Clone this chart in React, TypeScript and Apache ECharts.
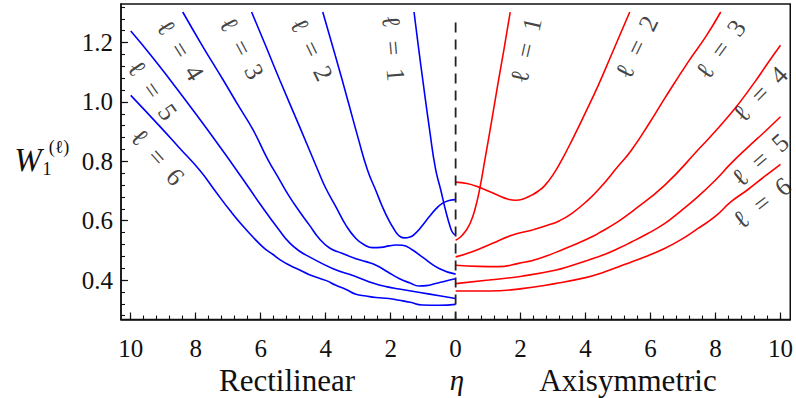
import React, { useEffect, useRef } from "react";
import * as echarts from "echarts";

// W_1^(l) against eta; rectilinear branch drawn to the left of eta = 0 (mirrored), axisymmetric to the right
const rect1: [number, number][] = [[0, 0.551], [0.08, 0.558], [0.16, 0.577], [0.31, 0.635], [0.45, 0.7], [0.62, 0.775], [0.8, 0.905], [1.0, 1.065], [1.15, 1.19], [1.28, 1.303]];
const rect2: [number, number][] = [[0, 0.671], [0.2, 0.668], [0.41, 0.658], [0.62, 0.638], [0.82, 0.612], [1.03, 0.583], [1.23, 0.558], [1.4, 0.545], [1.59, 0.542], [1.75, 0.55], [1.9, 0.572], [2.05, 0.6], [2.25, 0.646], [2.45, 0.7], [2.71, 0.77], [3.0, 0.878], [3.32, 1.006], [3.7, 1.155], [4.09, 1.303]];
const rect3: [number, number][] = [[0, 0.42], [0.51, 0.439], [1.03, 0.478], [1.35, 0.503], [1.64, 0.517], [1.85, 0.518], [2.05, 0.515], [2.3, 0.51], [2.56, 0.509], [2.8, 0.518], [3.07, 0.54], [3.38, 0.585], [3.68, 0.646], [4.0, 0.71], [4.24, 0.77], [4.8, 0.916], [5.41, 1.073], [5.85, 1.19], [6.28, 1.303]];
const rect4: [number, number][] = [[0, 0.404], [0.3, 0.397], [0.62, 0.388], [0.9, 0.381], [1.13, 0.38], [1.4, 0.39], [1.74, 0.405], [2.1, 0.428], [2.45, 0.45], [2.76, 0.462], [3.07, 0.472], [3.5, 0.49], [3.88, 0.508], [4.2, 0.54], [4.5, 0.585], [4.8, 0.63], [5.11, 0.68], [5.41, 0.736], [5.8, 0.81], [6.23, 0.905], [6.7, 0.99], [7.15, 1.073], [7.8, 1.19], [8.4, 1.303]];
const rect5: [number, number][] = [[0, 0.338], [0.5, 0.347], [1.1, 0.358], [1.74, 0.37], [2.1, 0.377], [2.5, 0.388], [3.1, 0.413], [3.79, 0.439], [4.5, 0.478], [4.8, 0.497], [5.11, 0.525], [5.41, 0.565], [6.03, 0.658], [6.6, 0.748], [7.25, 0.848], [8.0, 0.96], [8.78, 1.073], [9.4, 1.16], [10, 1.239]];
const rect6: [number, number][] = [[0, 0.318], [0.51, 0.315], [1.03, 0.316], [1.4, 0.325], [1.74, 0.332], [2.05, 0.338], [2.45, 0.341], [2.76, 0.346], [3.07, 0.352], [3.37, 0.368], [3.7, 0.383], [3.98, 0.398], [4.5, 0.418], [4.8, 0.434], [5.11, 0.45], [5.4, 0.468], [5.62, 0.486], [5.93, 0.511], [6.45, 0.57], [6.95, 0.635], [7.4, 0.7], [7.87, 0.769], [8.5, 0.845], [9.09, 0.916], [10, 1.022]];

const axi1: [number, number][] = [[0, 0.534], [0.15, 0.545], [0.3, 0.564], [0.45, 0.592], [0.6, 0.64], [0.75, 0.712], [0.9, 0.805], [1.1, 0.93], [1.3, 1.06], [1.5, 1.185], [1.68, 1.303]];
const axi2: [number, number][] = [[0, 0.73], [0.35, 0.725], [0.71, 0.713], [1.0, 0.7], [1.32, 0.685], [1.6, 0.673], [1.85, 0.669], [2.1, 0.674], [2.34, 0.686], [2.55, 0.7], [2.75, 0.719], [3.0, 0.755], [3.26, 0.803], [3.6, 0.875], [4.0, 0.965], [4.39, 1.056], [4.8, 1.16], [5.36, 1.303]];
const axi3: [number, number][] = [[0, 0.478], [0.51, 0.495], [1.12, 0.523], [1.73, 0.551], [2.34, 0.568], [2.85, 0.585], [3.2, 0.6], [3.57, 0.624], [4.0, 0.662], [4.4, 0.705], [5.0, 0.783], [5.41, 0.837], [6.0, 0.935], [6.43, 1.011], [7.19, 1.14], [7.7, 1.22], [8.16, 1.303]];
const axi4: [number, number][] = [[0, 0.45], [0.71, 0.446], [1.32, 0.445], [1.94, 0.456], [2.55, 0.472], [3.37, 0.506], [4.18, 0.545], [4.39, 0.557], [5.0, 0.597], [5.41, 0.629], [6.43, 0.719], [7.45, 0.837], [8.47, 0.961], [9.2, 1.066], [9.59, 1.128], [10, 1.191]];
const axi5: [number, number][] = [[0, 0.388], [1.02, 0.4], [2.04, 0.413], [3.06, 0.433], [3.6, 0.45], [4.08, 0.467], [4.6, 0.487], [5.0, 0.506], [5.41, 0.528], [5.9, 0.556], [6.43, 0.59], [6.9, 0.63], [7.45, 0.68], [8.0, 0.737], [8.47, 0.792], [9.0, 0.848], [9.5, 0.898], [10, 0.95]];
const axi6: [number, number][] = [[0, 0.363], [1.02, 0.363], [2.04, 0.371], [3.06, 0.388], [4.0, 0.408], [4.5, 0.424], [5.0, 0.444], [5.41, 0.461], [5.9, 0.481], [6.43, 0.506], [6.95, 0.537], [7.45, 0.573], [8.0, 0.615], [8.47, 0.663], [9.0, 0.705], [9.5, 0.748], [10, 0.79]];

const rectCurves = [rect1, rect2, rect3, rect4, rect5, rect6];
const axiCurves = [axi1, axi2, axi3, axi4, axi5, axi6];

// curve tags: [eta (signed), W, rotation in degrees]
const rectTags: [number, number, number][] = [[-1.92, 1.181, -85], [-4.44, 1.177, -64], [-6.59, 1.181, -62], [-8.48, 1.174, -58], [-9.34, 1.039, -55], [-9.18, 0.814, -48]];
const axiTags: [number, number, number][] = [[2.17, 1.174, 77], [5.58, 1.184, 64], [8.16, 1.177, 54], [9.38, 1.026, 46], [9.38, 0.804, 41], [9.44, 0.659, 38]];

const xMajorTicks = [-10, -8, -6, -4, -2, 0, 2, 4, 6, 8, 10];
const yMajorTicks = [0.4, 0.6, 0.8, 1.0, 1.2];
const xMinorTicks: number[] = [];
for (let i = -25; i <= 25; i++) xMinorTicks.push(i * 0.4);
const yMinorTicks: number[] = [];
for (let i = 7; i <= 33; i++) yMinorTicks.push(i * 0.04);

const X_MIN = -10.3;
const X_MAX = 10.3;
const Y_MIN = 0.267;
const Y_MAX = 1.33;
const DIVIDER_TOP = 1.268;

const BLUE = "#0000ff";
const RED = "#ff0000";
const INK = "#111111";
const SERIF = "Liberation Serif";

// keep every chart text in the serif face
const FONT_CSS = "#w-chart svg text { font-family: 'Liberation Serif', serif !important; }";

function buildOption(): echarts.EChartsOption {
  const lineSeries = (pts: [number, number][], color: string, mirror: boolean) => ({
    type: "line" as const,
    data: pts.map(([e, w]) => [mirror ? -e : e, w]),
    showSymbol: false,
    symbol: "none",
    smooth: 0.5,
    clip: true,
    lineStyle: { color, width: 1.6 },
    z: 3,
  });

  const tagData = [
    ...rectTags.map(([x, y, r], i) => ({ value: [x, y], label: { rotate: r }, name: String(i + 1) })),
    ...axiTags.map(([x, y, r], i) => ({ value: [x, y], label: { rotate: r }, name: String(i + 1) })),
  ];

  const minorAxisX = {
    type: "value" as const,
    min: X_MIN,
    max: X_MAX,
    position: "bottom" as const,
    axisLine: { show: false, onZero: false },
    axisTick: { show: true, inside: true, length: 4, customValues: xMinorTicks, lineStyle: { color: INK, width: 1.1 } },
    axisLabel: { show: false },
    splitLine: { show: false },
  };
  const minorAxisY = {
    type: "value" as const,
    min: Y_MIN,
    max: Y_MAX,
    position: "left" as const,
    axisLine: { show: false, onZero: false },
    axisTick: { show: true, inside: true, length: 4, customValues: yMinorTicks, lineStyle: { color: INK, width: 1.1 } },
    axisLabel: { show: false },
    splitLine: { show: false },
  };

  const txt = (x: number, y: number, text: string, size: number, italic = false) => ({
    type: "text" as const,
    x,
    y,
    style: {
      text,
      fontSize: size,
      fontFamily: SERIF,
      fontStyle: italic ? "italic" : "normal",
      fill: INK,
      align: "center",
      verticalAlign: "middle",
    },
  });

  return {
    animation: false,
    backgroundColor: "#ffffff",
    grid: {
      left: 121,
      right: 3.5,
      top: 4,
      bottom: 78.5,
      show: true,
      borderColor: INK,
      borderWidth: 1.5,
      backgroundColor: "transparent",
    },
    xAxis: [
      {
        type: "value",
        min: X_MIN,
        max: X_MAX,
        position: "bottom",
        axisLine: { show: true, onZero: false, lineStyle: { color: INK, width: 1.5 } },
        axisTick: { show: true, inside: true, length: 7, customValues: xMajorTicks, lineStyle: { color: INK, width: 1.2 } },
        axisLabel: {
          customValues: xMajorTicks,
          formatter: (v: number) => String(Math.abs(Math.round(v))),
          fontSize: 25,
          fontFamily: SERIF,
          color: INK,
          margin: 16,
        },
        splitLine: { show: false },
      },
      minorAxisX,
    ],
    yAxis: [
      {
        type: "value",
        min: Y_MIN,
        max: Y_MAX,
        position: "left",
        axisLine: { show: true, onZero: false, lineStyle: { color: INK, width: 1.5 } },
        axisTick: { show: true, inside: true, length: 7, customValues: yMajorTicks, lineStyle: { color: INK, width: 1.2 } },
        axisLabel: {
          customValues: yMajorTicks,
          formatter: (v: number) => v.toFixed(1),
          fontSize: 25,
          fontFamily: SERIF,
          color: INK,
          margin: 8,
        },
        splitLine: { show: false },
      },
      minorAxisY,
    ],
    series: [
      ...rectCurves.map((c) => lineSeries(c, BLUE, true)),
      ...axiCurves.map((c) => lineSeries(c, RED, false)),
      {
        type: "line",
        data: [[0, DIVIDER_TOP], [0, Y_MIN]],
        showSymbol: false,
        symbol: "none",
        lineStyle: { color: "#222222", width: 1.8, type: [10, 7] },
        z: 4,
      },
      {
        type: "scatter",
        data: tagData,
        symbolSize: 0,
        silent: true,
        label: {
          show: true,
          position: "inside",
          align: "center",
          verticalAlign: "middle",
          formatter: (p: any) => "\u2113\u2002=\u2002" + p.name,
          fontSize: 26,
          fontFamily: SERIF,
          color: INK,
        },
        z: 5,
      },
    ],
    graphic: [
      txt(28, 160, "W", 33, true),
      txt(47, 169, "1", 18),
      txt(59, 147, "(\u2113)", 18),
      txt(287, 380, "Rectilinear", 31),
      txt(457, 380, "\u03b7", 29, true),
      txt(628, 380, "Axisymmetric", 31),
    ],
  } as echarts.EChartsOption;
}

export default function App() {
  const ref = useRef<HTMLDivElement>(null);
  useEffect(() => {
    if (!ref.current) return;
    const chart = echarts.init(ref.current, undefined, { renderer: "svg" });
    chart.setOption(buildOption());
    return () => chart.dispose();
  }, []);
  return (
    <>
      <style>{FONT_CSS}</style>
      <div id="w-chart" ref={ref} style={{ position: "fixed", left: 0, top: 0, width: 796, height: 398 }} />
    </>
  );
}
